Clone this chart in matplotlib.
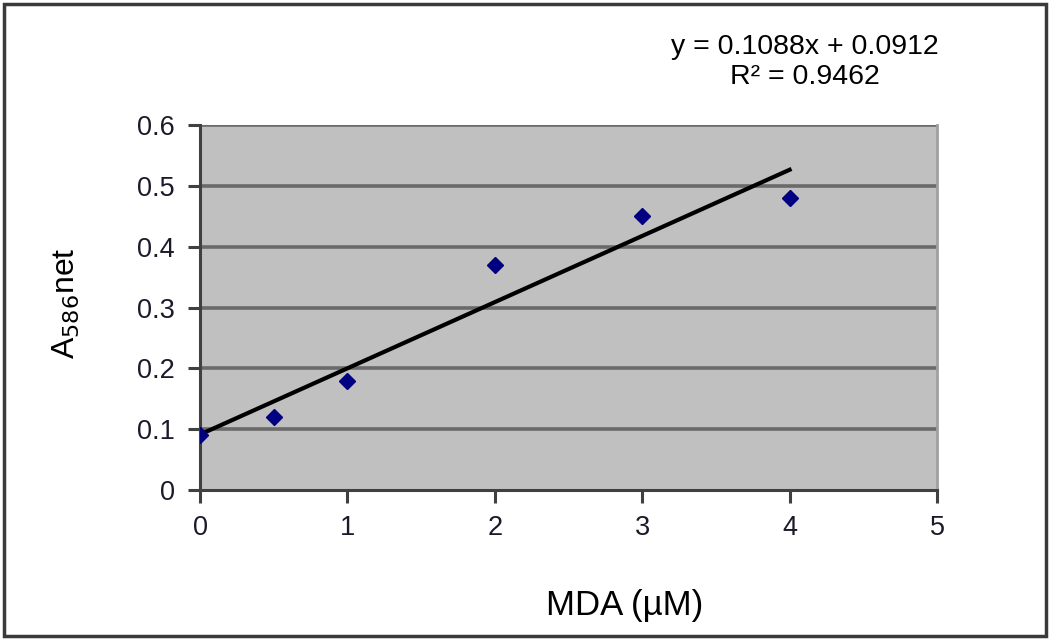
import matplotlib.pyplot as plt
import numpy as np
from matplotlib.patches import Rectangle

plt.rcParams['font.family'] = ['Liberation Sans', 'DejaVu Sans']

# data
mda = [0, 0.5, 1, 2, 3, 4]
absorb = [0.09, 0.12, 0.18, 0.37, 0.45, 0.48]
slope = 0.1088
intercept = 0.0912
x_ticks = [0, 1, 2, 3, 4, 5]
x_labels = ['0', '1', '2', '3', '4', '5']
y_ticks = [0, 0.1, 0.2, 0.3, 0.4, 0.5, 0.6]
y_labels = ['0', '0.1', '0.2', '0.3', '0.4', '0.5', '0.6']

fig = plt.figure(figsize=(10.5, 6.4), dpi=100)
ax = fig.add_axes([200 / 1050, 150 / 640, 737 / 1050, 365 / 640])
ax.set_facecolor('#c0c0c0')

# gridlines
for yv in y_ticks[1:]:
    ax.axhline(yv, color='#6a6a6a', lw=2.6, zorder=1)

# trend line
fit_x = np.array([0, 4])
ax.plot(fit_x, slope * fit_x + intercept, color='black', lw=3, zorder=2)

# points
ax.plot(mda, absorb, 'D', color='#000080', markersize=8.5, zorder=3)

ax.set_xlim(0, 5)
ax.set_ylim(0, 0.6)
ax.set_xticks(x_ticks)
ax.set_xticklabels(x_labels)
ax.set_yticks(y_ticks)
ax.set_yticklabels(y_labels)
ax.tick_params(axis='both', direction='out', length=9, width=2.2, color='#404040',
               labelsize=19.5, labelcolor='#1a1a2a', pad=9)

for side in ['left', 'bottom']:
    ax.spines[side].set_color('#404040')
    ax.spines[side].set_linewidth(2.2)
ax.spines['top'].set_visible(False)
ax.spines['right'].set_color('#a0a0a0')
ax.spines['right'].set_linewidth(2)

ax.set_xlabel('MDA (µM)', fontsize=25)
ax.xaxis.set_label_coords((625 - 200) / 737, (490 - 606) / 365)
ax.xaxis.label.set_va('center')
ax.set_ylabel('A$_{586}$net', fontsize=23)
ax.yaxis.set_label_coords((66 - 200) / 737, (490 - 303) / 365)
ax.yaxis.label.set_va('center')

# equation text
fig.text(805 / 1050, 1 - 47 / 640, 'y = 0.1088x + 0.0912', ha='center', va='center', fontsize=20.5)
fig.text(805 / 1050, 1 - 77 / 640, 'R² = 0.9462', ha='center', va='center', fontsize=20.5)

# outer frame
fig.patches.append(Rectangle((4 / 1050, 4 / 640), 1042 / 1050, 632 / 640,
                             transform=fig.transFigure, fill=False,
                             edgecolor='#3a3a3a', lw=2.5))

fig.savefig('out.png', dpi=100)
